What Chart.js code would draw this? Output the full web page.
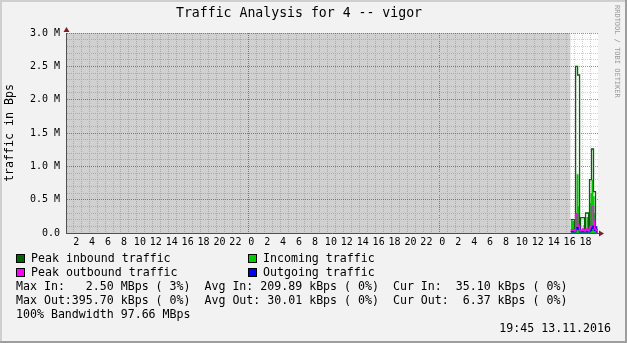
<!DOCTYPE html>
<html lang="en">
<head>
    <meta charset="UTF-8">
    <title>Traffic Analysis for 4 -- vigor</title>
    <style>
        body {
            margin: 0;
            background: #f2f2f2;
        }

        canvas {
            display: block;
        }
    </style>
</head>
<body>
<canvas id="traffic-chart" width="627" height="343"></canvas>
<script src="https://cdn.jsdelivr.net/npm/chart.js@4.4.0/dist/chart.umd.min.js"></script>
<script>
    // time is in hours since 11.11.2016 00:00
    const viewStart = 1.094;
    const viewEnd = 67.94;
    const unknownEnd = 64.5; // nothing recorded before 16:30 on 13.11

    const sampleHours = [64.5, 64.625, 64.75, 64.875, 65, 65.125, 65.25, 65.375, 65.5, 65.625,
        65.75, 65.875, 66, 66.125, 66.25, 66.375, 66.5, 66.625, 66.75, 66.875,
        67, 67.125, 67.25, 67.375, 67.5, 67.625, 67.75, 67.875, 68];

    // MBps
    const peakInbound = [0.20, 0.20, 0.20, 0.20, 0.03, 2.50, 2.50, 2.37, 2.37, 0.05,
        0.23, 0.23, 0.23, 0.23, 0.05, 0.30, 0.30, 0.30, 0.05, 0.80,
        0.80, 1.26, 1.26, 0.62, 0.62, 0.08, 0.05, 0.035, 0.035];
    const incoming = [0.19, 0.19, 0.18, 0.18, 0.02, 0.30, 0.88, 0.88, 0.40, 0.03,
        0.03, 0.02, 0.04, 0.12, 0.03, 0.05, 0.24, 0.24, 0.04, 0.45,
        0.60, 0.80, 0.80, 0.55, 0.30, 0.05, 0.035, 0.035, 0.035];
    const peakOutbound = [0.05, 0.04, 0.04, 0.05, 0.03, 0.28, 0.28, 0.12, 0.10, 0.03,
        0.04, 0.04, 0.06, 0.04, 0.03, 0.05, 0.06, 0.04, 0.03, 0.08,
        0.10, 0.39, 0.39, 0.20, 0.06, 0.05, 0.04, 0.006, 0.006];
    const outgoing = [0.02, 0.02, 0.02, 0.03, 0.02, 0.06, 0.08, 0.06, 0.09, 0.02,
        0.02, 0.02, 0.03, 0.02, 0.02, 0.02, 0.03, 0.02, 0.02, 0.03,
        0.04, 0.08, 0.10, 0.07, 0.04, 0.09, 0.02, 0.006, 0.006];

    const seriesNames = ["Peak inbound traffic", "Incoming traffic", "Peak outbound traffic", "Outgoing traffic"];
    const seriesColors = ["#006600", "#00cc00", "#ff00ff", "#0000ff"];

    const statLines = [
        "Max In:   2.50 MBps ( 3%)  Avg In: 209.89 kBps ( 0%)  Cur In:  35.10 kBps ( 0%)",
        "Max Out:395.70 kBps ( 0%)  Avg Out: 30.01 kBps ( 0%)  Cur Out:  6.37 kBps ( 0%)",
        "100% Bandwidth 97.66 MBps"
    ];
    const stamp = "19:45 13.11.2016";
    const watermark = "RRDTOOL / TOBI OETIKER";

    const mono = '"DejaVu Sans Mono", monospace';
    const minorGrid = "#d2d2d2";
    const majorGrid = "rgba(255, 40, 40, 0.7)";

    const toPoints = values => values.map((v, i) => ({x: sampleHours[i], y: v}));

    const frame = {
        id: "frame",
        beforeDraw(chart) {
            const ctx = chart.ctx;
            const w = chart.width, h = chart.height;
            const area = chart.chartArea;
            ctx.save();
            ctx.fillStyle = "#f2f2f2";
            ctx.fillRect(0, 0, w, h);
            ctx.fillStyle = "#cfcfcf";
            ctx.fillRect(0, 0, w, 2);
            ctx.fillRect(0, 0, 2, h);
            ctx.fillStyle = "#9e9e9e";
            ctx.fillRect(0, h - 2, w, 2);
            ctx.fillRect(w - 2, 0, 2, h);
            ctx.fillStyle = "#ffffff";
            ctx.fillRect(area.left, area.top, area.right - area.left, area.bottom - area.top);
            ctx.restore();
        },
        afterDraw(chart) {
            const ctx = chart.ctx;
            const area = chart.chartArea;
            ctx.save();

            // axis arrows
            ctx.fillStyle = "#801f1f";
            ctx.beginPath();
            ctx.moveTo(area.left + 0.5, area.top - 6);
            ctx.lineTo(area.left - 2.5, area.top - 1);
            ctx.lineTo(area.left + 3.5, area.top - 1);
            ctx.fill();
            ctx.beginPath();
            ctx.moveTo(area.right + 6, area.bottom + 0.5);
            ctx.lineTo(area.right + 1, area.bottom - 2.5);
            ctx.lineTo(area.right + 1, area.bottom + 3.5);
            ctx.fill();

            // legend
            ctx.font = "11.6px " + mono;
            ctx.textBaseline = "middle";
            const slots = [[16, 259], [248, 259], [16, 273], [248, 273]];
            seriesNames.forEach((name, i) => {
                const [x, y] = slots[i];
                ctx.fillStyle = "#000";
                ctx.fillRect(x, y - 5, 9, 9);
                ctx.fillStyle = seriesColors[i];
                ctx.fillRect(x + 1, y - 4, 7, 7);
                ctx.fillStyle = "#000";
                ctx.fillText(name, x + 15, y);
            });
            statLines.forEach((line, i) => {
                ctx.fillText(line, 16, 287 + i * 14);
            });
            ctx.textAlign = "right";
            ctx.fillText(stamp, 611, 329);

            // watermark
            ctx.translate(617, 5);
            ctx.rotate(Math.PI / 2);
            ctx.textAlign = "left";
            ctx.fillStyle = "#9a9a9a";
            ctx.font = "7px " + mono;
            ctx.fillText(watermark, 0, 0);
            ctx.restore();
        }
    };

    const chart = new Chart("traffic-chart", {
        type: "line",
        data: {
            datasets: [{
                label: "unknown",
                data: [{x: viewStart, y: 3.0}, {x: unknownEnd, y: 3.0}],
                backgroundColor: "rgba(0, 0, 0, 0.185)",
                borderWidth: 0,
                fill: "origin",
                order: 10
            }, {
                label: seriesNames[1],
                data: toPoints(incoming),
                backgroundColor: seriesColors[1],
                borderWidth: 0,
                stepped: true,
                fill: "origin",
                order: 5
            }, {
                label: seriesNames[0],
                data: toPoints(peakInbound),
                borderColor: seriesColors[0],
                borderWidth: 1.3,
                stepped: true,
                fill: false,
                order: 4
            }, {
                label: seriesNames[2],
                data: toPoints(peakOutbound),
                borderColor: seriesColors[2],
                borderWidth: 1.5,
                stepped: true,
                fill: false,
                order: 1
            }, {
                label: seriesNames[3],
                data: toPoints(outgoing),
                borderColor: seriesColors[3],
                borderWidth: 1.5,
                stepped: true,
                fill: false,
                order: 2
            }]
        },
        options: {
            responsive: false,
            animation: false,
            elements: {
                point: {radius: 0}
            },
            layout: {
                padding: {left: 0, top: 0, right: 29, bottom: 90}
            },
            plugins: {
                legend: {display: false},
                tooltip: {enabled: false},
                title: {
                    display: true,
                    text: "Traffic Analysis for 4 -- vigor",
                    color: "#000",
                    font: {family: mono, size: 13.2, weight: "normal"},
                    padding: {top: 6, bottom: 11.16}
                }
            },
            scales: {
                x: {
                    type: "linear",
                    min: viewStart,
                    max: viewEnd,
                    afterFit: scale => {
                        scale.height = 20;
                    },
                    ticks: {
                        stepSize: 1,
                        includeBounds: false,
                        autoSkip: false,
                        maxRotation: 0,
                        maxTicksLimit: 200,
                        labelOffset: 3,
                        padding: 3,
                        color: "#000",
                        font: {family: mono, size: 10},
                        callback: value => {
                            const h = Math.round(value) % 24;
                            return h % 2 === 0 ? String(h) : "";
                        }
                    },
                    grid: {
                        drawTicks: false,
                        lineWidth: 1,
                        color: ctx => Math.round(ctx.tick.value) % 24 === 0 ? majorGrid : minorGrid
                    },
                    border: {
                        z: 2,
                        display: true,
                        color: "#505050",
                        width: 1,
                        dash: [1, 1]
                    }
                },
                y: {
                    min: 0,
                    max: 3.0,
                    afterFit: scale => {
                        scale.width = 66;
                    },
                    ticks: {
                        stepSize: 0.1,
                        autoSkip: false,
                        maxTicksLimit: 100,
                        padding: 6,
                        color: "#000",
                        font: {family: mono, size: 10},
                        callback: value => {
                            if (Math.round(value * 10) % 5 !== 0) return "";
                            return value === 0 ? "0.0" : value.toFixed(1) + " M";
                        }
                    },
                    grid: {
                        drawTicks: false,
                        lineWidth: 1,
                        color: ctx => Math.round(ctx.tick.value * 10) % 5 === 0 ? majorGrid : minorGrid
                    },
                    border: {
                        z: 2,
                        display: true,
                        color: "#505050",
                        width: 1,
                        dash: [1, 1]
                    },
                    title: {
                        display: true,
                        text: "traffic in Bps",
                        color: "#000",
                        font: {family: mono, size: 11.6},
                        padding: {top: 3, bottom: 0}
                    }
                }
            }
        },
        plugins: [frame]
    });
</script>
</body>
</html>
